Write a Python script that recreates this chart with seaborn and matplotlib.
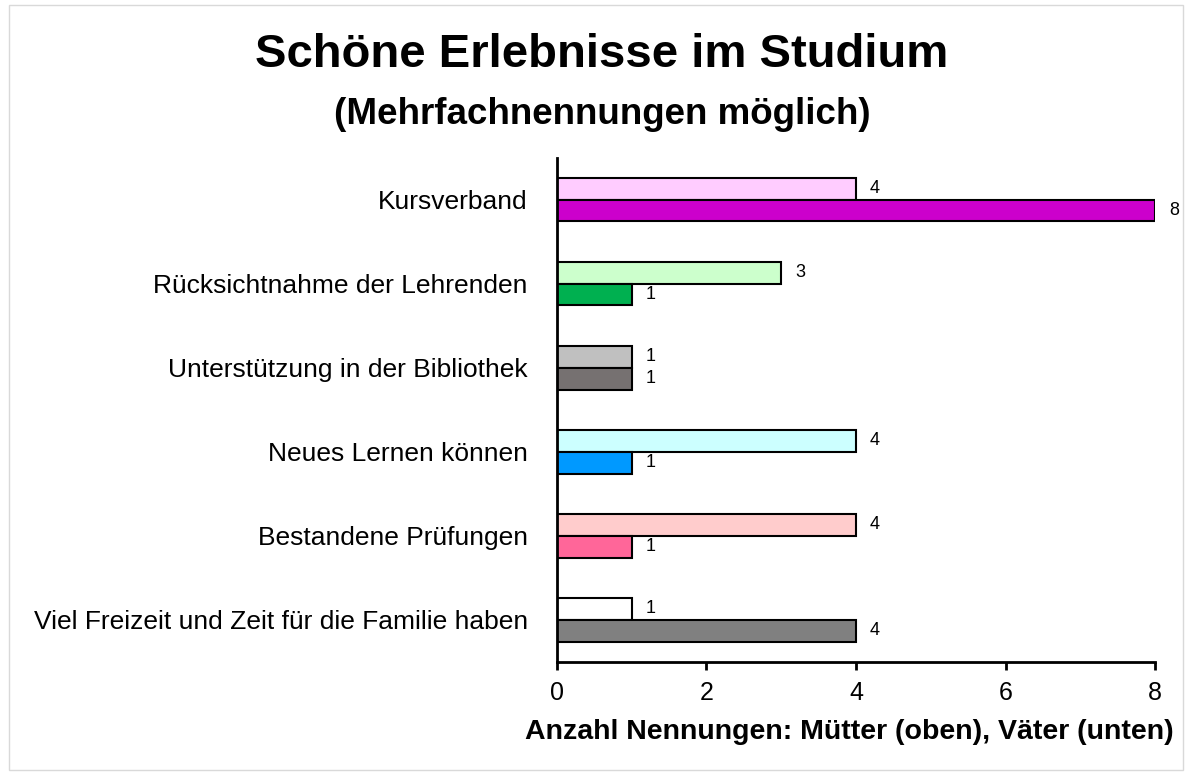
import pandas as pd
import matplotlib.pyplot as plt
import seaborn as sns
from matplotlib.patches import Rectangle

kategorien = ['Kursverband', 'Rücksichtnahme der Lehrenden', 'Unterstützung in der Bibliothek',
              'Neues Lernen können', 'Bestandene Prüfungen', 'Viel Freizeit und Zeit für die Familie haben']
muetter = [4, 3, 1, 4, 4, 1]
vaeter = [8, 1, 1, 1, 1, 4]
farben_muetter = ['#FFCCFF', '#CCFFCC', '#C0C0C0', '#CCFFFF', '#FFCCCC', '#FFFFFF']
farben_vaeter = ['#CC00CC', '#00B050', '#767171', '#0099FF', '#FF6699', '#808080']

df = pd.DataFrame({
    'Kategorie': kategorien * 2,
    'Anzahl': muetter + vaeter,
    'Gruppe': ['Mütter'] * len(kategorien) + ['Väter'] * len(kategorien),
})

sns.set_style('white')
plt.rcParams['font.family'] = ['Liberation Sans', 'DejaVu Sans']
plt.rcParams['text.color'] = 'black'
plt.rcParams['axes.labelcolor'] = 'black'
plt.rcParams['xtick.color'] = 'black'
plt.rcParams['ytick.color'] = 'black'

fig = plt.figure(figsize=(11.85, 7.76), dpi=100)
ax = fig.add_axes([0.470, 0.147, 0.5047, 0.650])

sns.barplot(data=df, y='Kategorie', x='Anzahl', hue='Gruppe', orient='h',
            width=0.52, dodge=True, legend=False, ax=ax, order=kategorien)

# jede Kategorie hat eigene Farben (Mütter hell, Väter dunkel)
for cont, farben in zip(ax.containers, [farben_muetter, farben_vaeter]):
    for patch, c in zip(cont, farben):
        patch.set_facecolor(c)
        patch.set_edgecolor('black')
        patch.set_linewidth(1.5)
    ax.bar_label(cont, fmt='%d', padding=10, fontsize=13, color='black')

ax.set_xlim(0, 8)
ax.set_ylim(5.5, -0.5)
ax.set_xticks([0, 2, 4, 6, 8])
ax.tick_params(axis='x', labelsize=18, length=6, width=2, colors='black', direction='out', bottom=True, pad=8)
ax.tick_params(axis='y', labelsize=19, length=0, pad=21, colors='black')
ax.set_ylabel('')
ax.set_xlabel('Anzahl Nennungen: Mütter (oben), Väter (unten)', fontsize=20.5, fontweight='bold')
ax.xaxis.set_label_coords(0.489, -0.113)
for s in ['top', 'right']:
    ax.spines[s].set_visible(False)
for s in ['left', 'bottom']:
    ax.spines[s].set_color('black')
    ax.spines[s].set_linewidth(2)

fig.text(0.508, 0.929, 'Schöne Erlebnisse im Studium', ha='center', va='center', fontsize=34, fontweight='bold')
fig.text(0.508, 0.853, '(Mehrfachnennungen möglich)', ha='center', va='center', fontsize=26.5, fontweight='bold')

fig.patches.append(Rectangle((0.008, 0.008), 0.990, 0.985, transform=fig.transFigure,
                             fill=False, edgecolor='#d9d9d9', linewidth=1))

plt.savefig('out.png', dpi=100)
